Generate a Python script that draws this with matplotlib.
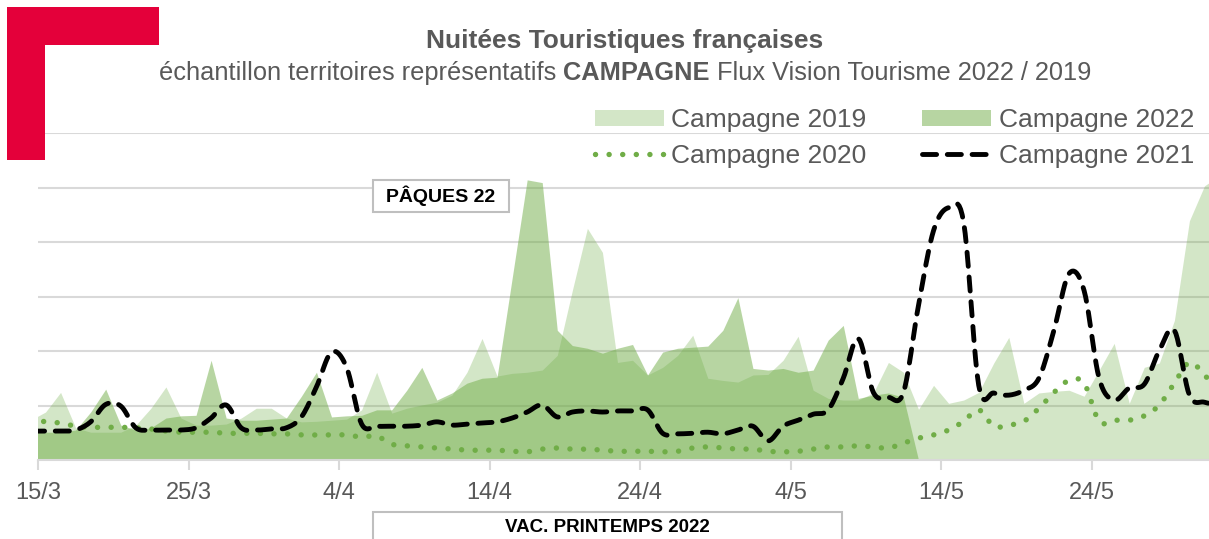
import numpy as np
import pandas as pd
import matplotlib.pyplot as plt
from matplotlib.patches import Polygon, Rectangle, Patch
from matplotlib.lines import Line2D

plt.rcParams['font.family'] = ['Liberation Sans', 'DejaVu Sans']

# un point par jour, le premier = 14/3 (a moitie hors du cadre)
campagne_2019 = [73, 88, 124, 59, 51, 51, 51, 64, 95, 134,
                 77, 64, 64, 66, 77, 95, 95, 77, 70, 71,
                 73, 75, 92, 161, 86, 95, 101, 106, 119, 161,
                 223, 154, 159, 161, 165, 192, 311, 425, 381, 179,
                 183, 156, 170, 192, 229, 150, 146, 143, 156, 157,
                 183, 227, 128, 113, 110, 110, 123, 179, 161, 93,
                 137, 104, 110, 124, 178, 225, 104, 123, 126, 128,
                 117, 165, 214, 104, 170, 178, 256, 439, 503, 522]
campagne_2020 = [77, 70, 68, 62, 60, 60, 60, 59, 57, 53,
                 51, 51, 51, 49, 49, 49, 48, 48, 46, 46,
                 46, 46, 42, 44, 29, 26, 24, 22, 20, 18,
                 18, 18, 16, 15, 20, 22, 20, 20, 18, 16,
                 16, 16, 15, 16, 22, 24, 22, 20, 20, 16,
                 15, 16, 20, 24, 24, 26, 24, 22, 31, 40,
                 46, 55, 71, 92, 62, 64, 71, 95, 124, 146,
                 141, 71, 73, 73, 81, 101, 141, 179, 156, 124]
campagne_2021 = [53, 53, 53, 55, 70, 102, 99, 59, 55, 55,
                 55, 59, 77, 101, 59, 55, 57, 59, 79, 134,
                 198, 170, 66, 62, 62, 62, 64, 70, 64, 66,
                 68, 70, 77, 88, 101, 79, 88, 90, 88, 90,
                 90, 92, 49, 48, 49, 51, 48, 55, 62, 35,
                 62, 73, 84, 92, 150, 223, 124, 115, 124, 284,
                 421, 463, 436, 137, 123, 119, 128, 150, 238, 342,
                 311, 150, 110, 132, 139, 201, 238, 119, 106, 101]
campagne_2022 = [51, 51, 51, 55, 88, 130, 64, 55, 59, 77,
                 81, 82, 183, 77, 73, 73, 75, 77, 117, 161,
                 79, 81, 82, 92, 92, 128, 170, 110, 123, 141,
                 150, 152, 333, 514, 509, 238, 210, 205, 196, 205,
                 212, 156, 198, 205, 207, 209, 238, 298, 168, 165,
                 168, 161, 165, 220, 247, 113, 119, 123, 115, 0]

tick_days = [0, 10, 20, 30, 40, 50, 60, 70]
tick_labels = ['15/3', '25/3', '4/4', '14/4', '24/4', '4/5', '14/5', '24/5']

vert = '#70AD47'
gris = '#595959'
W, H = 1209, 539


def lisse(x, y, k=10):
    # trace lisse facon Excel (Catmull-Rom), les points restent ceux du tableau
    x = np.asarray(x, float)
    y = np.asarray(y, float)
    px = np.concatenate([[x[0]], x, [x[-1]]])
    py = np.concatenate([[y[0]], y, [y[-1]]])
    t = np.linspace(0, 1, k, endpoint=False)
    xs, ys = [], []
    for i in range(1, len(px) - 2):
        for arr, out in ((px, xs), (py, ys)):
            p0, p1, p2, p3 = arr[i - 1], arr[i], arr[i + 1], arr[i + 2]
            out.extend(0.5 * (2 * p1 + (-p0 + p2) * t + (2 * p0 - 5 * p1 + 4 * p2 - p3) * t ** 2
                              + (-p0 + 3 * p1 - 3 * p2 + p3) * t ** 3))
    xs.append(x[-1])
    ys.append(y[-1])
    return np.array(xs), np.array(ys)


style20 = dict(color=vert, lw=3.9, dashes=(0.01, 2.5), dash_capstyle='round')
style21 = dict(color='black', lw=3.5, dashes=(2.9, 2.2), dash_capstyle='round')

fig = plt.figure(figsize=(W / 100, H / 100), dpi=100)
ax = fig.add_axes([38 / W, 79 / H, 1171 / W, 327 / H])

pos19 = np.arange(len(campagne_2019)) - 0.5
pos22 = np.arange(len(campagne_2022)) - 0.5

ax.fill_between(pos19, campagne_2019, color=vert, alpha=0.3, lw=0, zorder=2)
ax.fill_between(pos22, campagne_2022, color=vert, alpha=0.5, lw=0, zorder=3)

x20, y20 = lisse(pos19, campagne_2020)
ax.plot(x20, y20, zorder=4, **style20)
x21, y21 = lisse(pos19, campagne_2021)
ax.plot(x21, y21, zorder=5, **style21)

ax.set_xlim(0, 77.8)
ax.set_ylim(0, 600)
ax.set_yticks(range(100, 601, 100))
ax.yaxis.grid(True, color='#d9d9d9', lw=1.5, zorder=0)
ax.set_axisbelow(True)
ax.tick_params(axis='y', length=0, labelleft=False)
for s in ['top', 'right', 'left']:
    ax.spines[s].set_visible(False)
ax.spines['bottom'].set_color('#d9d9d9')
ax.spines['bottom'].set_linewidth(1.5)
ax.spines['bottom'].set_zorder(6)
ax.set_xticks(tick_days, tick_labels)
ax.tick_params(axis='x', length=7, width=1.5, color='#d9d9d9', labelsize=17,
               labelcolor=gris, pad=9)

# bandeau rouge en haut a gauche
pts = [(7, 7), (159, 7), (159, 45), (45, 45), (45, 160), (7, 160)]
fig.patches.append(Polygon([(a / W, 1 - b / H) for a, b in pts], closed=True,
                           transform=fig.transFigure, fc='#e4003a', ec='none'))

# titres
fig.text(625 / W, 1 - 41 / H, 'Nuitées Touristiques françaises', ha='center', va='center',
         fontsize=19, weight='bold', color=gris)
renderer = fig.canvas.get_renderer()
parts = [('échantillon territoires représentatifs', 'normal'), ('CAMPAGNE', 'bold'),
         ('Flux Vision Tourisme 2022 / 2019', 'normal')]
txts = [fig.text(0, 1 - 73 / H, s, fontsize=18.3, weight=w, color=gris, va='center')
        for s, w in parts]
widths = [t.get_window_extent(renderer).width for t in txts]
space = 0.278 * 18.3 * 100 / 72
x = 625 - (sum(widths) + 2 * space) / 2
for t, w in zip(txts, widths):
    t.set_x(x / W)
    x += w + space

# legende
handles = [Patch(fc=vert, alpha=0.3, ec='none'),
           Line2D([], [], **style20),
           Patch(fc=vert, alpha=0.5, ec='none'),
           Line2D([], [], **style21)]
labels = ['Campagne 2019', 'Campagne 2020', 'Campagne 2022', 'Campagne 2021']
fig.legend(handles, labels, ncol=2, loc='upper right', bbox_to_anchor=(1194 / W, 1 - 108 / H),
           frameon=False, fontsize=19, labelcolor=gris, handlelength=2.6, handleheight=0.55,
           handletextpad=0.3, columnspacing=2.1, labelspacing=0.45, borderpad=0, borderaxespad=0)

# encadres
fig.patches.append(Rectangle((373 / W, 1 - 212 / H), 136 / W, 32 / H, transform=fig.transFigure,
                             fc='white', ec='#bfbfbf', lw=1.5, zorder=7))
fig.text(441 / W, 1 - 196 / H, 'PÂQUES 22', ha='center', va='center', fontsize=14,
         weight='bold', color='black', zorder=8)
fig.patches.append(Rectangle((373 / W, 1 - 550 / H), 469 / W, 38 / H, transform=fig.transFigure,
                             fc='white', ec='#bfbfbf', lw=1.5, zorder=7))
fig.text(607 / W, 1 - 527 / H, 'VAC. PRINTEMPS 2022', ha='center', va='center', fontsize=13.5,
         weight='bold', color='black', zorder=8)

fig.savefig('out.png', dpi=100)
